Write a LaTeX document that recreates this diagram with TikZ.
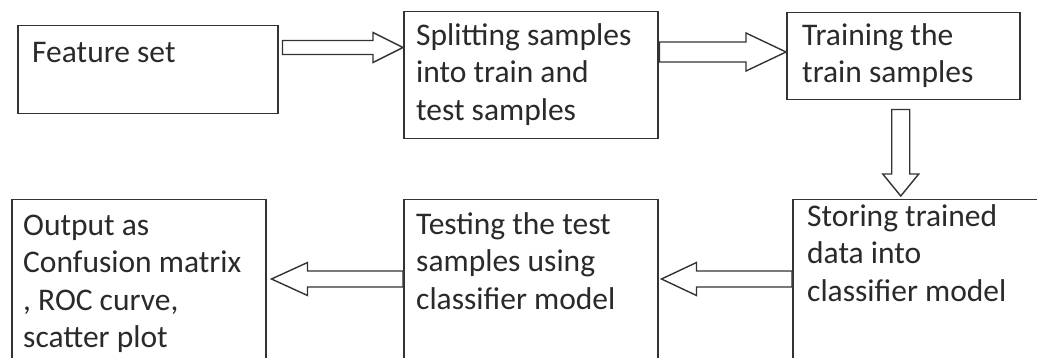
\documentclass[tikz,border=0pt]{standalone}
\usepackage{fontspec}
\setmainfont{Carlito}
\usetikzlibrary{calc}
\definecolor{ink}{HTML}{2A2A2A}
\definecolor{edge}{HTML}{333333}
\tikzset{
  box/.style={draw=edge, line width=1.5pt, rectangle, inner sep=0pt, anchor=north west},
  txt/.style={text=ink, inner sep=0pt, anchor=north west, align=left, font=\fontsize{31.5}{37.5}\selectfont},
  blk/.style={draw=edge, line width=1.4pt, fill=white, line join=miter},
}
\newcommand\fs{\rule{0pt}{30pt}}
\newcommand\harrow[5]{\draw[blk] ($(#1)+(0,-#3)$) -- ($(#2)+(#5,-#3)$) -- ($(#2)+(#5,-#4)$) -- (#2) -- ($(#2)+(#5,#4)$) -- ($(#2)+(#5,#3)$) -- ($(#1)+(0,#3)$) -- cycle;}
\newcommand\varrow[5]{\draw[blk] ($(#1)+(-#3,0)$) -- ($(#2)+(-#3,#5)$) -- ($(#2)+(-#4,#5)$) -- (#2) -- ($(#2)+(#4,#5)$) -- ($(#2)+(#3,#5)$) -- ($(#1)+(#3,0)$) -- cycle;}
\begin{document}
\begin{tikzpicture}[x=1pt,y=-1pt]
\useasboundingbox (0,0) rectangle (1037,358);
\clip (0,0) rectangle (1037,358);
\fill[white] (0,0) rectangle (1037,358);
% boxes
\node[box, minimum width=260pt, minimum height=88pt] (f1) at (17,25) {};
\node[box, minimum width=254pt, minimum height=127pt] (f2) at (403,11) {};
\node[box, minimum width=233pt, minimum height=87pt] (f3) at (786,12) {};
\node[box, minimum width=246pt, minimum height=190pt] (f4) at (792,199) {};
\node[box, minimum width=254pt, minimum height=190pt] (f5) at (403,199) {};
\node[box, minimum width=254pt, minimum height=190pt] (f6) at (11,199) {};
% texts
\node[txt] (t1) at ($(f1.north west)+(15,7)$) {\fs Feature set};
\node[txt] (t2) at ($(f2.north west)+(13,4)$) {\fs Splitting samples\\into train and\\test samples};
\node[txt] (t3) at ($(f3.north west)+(16,3)$) {\fs Training the\\train samples};
\node[txt] (t4) at ($(f4.north west)+(15,-3)$) {\fs Storing trained\\data into\\classifier model};
\node[txt] (t5) at ($(f5.north west)+(13,5)$) {\fs Testing the test\\samples using\\classifier model};
\node[txt] (t6) at ($(f6.north west)+(12,6)$) {\fs Output as\\Confusion matrix\\, ROC curve,\\scatter plot};
% arrows
\coordinate (a1s) at ([xshift=4pt]f1.east |- 0,47.5);
\coordinate (a1e) at (f2.west |- 0,47.5);
\harrow{a1s}{a1e}{7}{15}{-30}
\coordinate (a2s) at ([xshift=1pt]f2.east |- 0,52);
\coordinate (a2e) at (f3.west |- 0,52);
\harrow{a2s}{a2e}{10}{19}{-40}
\coordinate (a3s) at ([xshift=-2.5pt,yshift=-9pt]f3.south);
\coordinate (a3e) at ([yshift=3pt]a3s |- f4.north);
\varrow{a3s}{a3e}{9}{18}{-22}
\coordinate (a4s) at (f4.west |- 0,279);
\coordinate (a4e) at ([xshift=3pt]f5.east |- 0,279);
\harrow{a4s}{a4e}{8}{16.5}{35}
\coordinate (a5s) at (f5.west |- 0,279);
\coordinate (a5e) at ([xshift=5pt]f6.east |- 0,279);
\harrow{a5s}{a5e}{8}{16.5}{36}
\end{tikzpicture}
\end{document}
